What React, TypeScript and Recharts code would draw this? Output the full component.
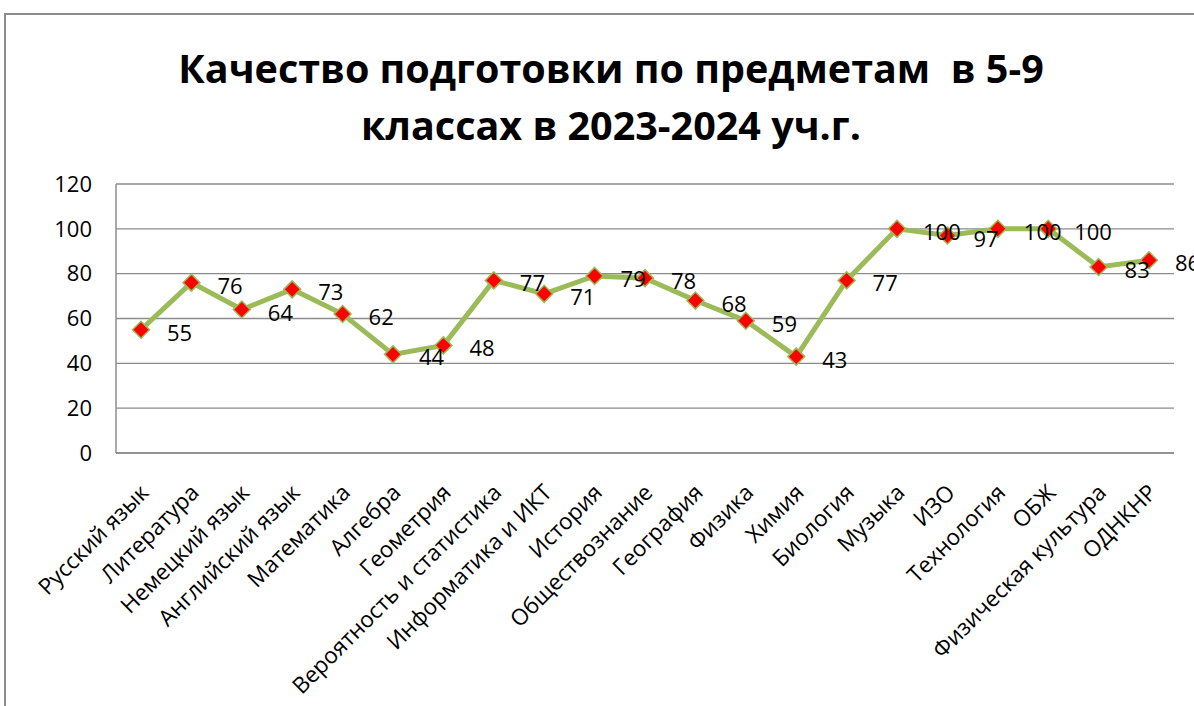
import { CartesianGrid, LabelList, Line, LineChart, XAxis, YAxis } from "recharts";

const subjects = [
  "Русский язык",
  "Литература",
  "Немецкий язык",
  "Английский язык",
  "Математика",
  "Алгебра",
  "Геометрия",
  "Вероятность и статистика",
  "Информатика и ИКТ",
  "История",
  "Обществознание",
  "География",
  "Физика",
  "Химия",
  "Биология",
  "Музыка",
  "ИЗО",
  "Технология",
  "ОБЖ",
  "Физическая культура",
  "ОДНКНР",
];

const quality = [55, 76, 64, 73, 62, 44, 48, 77, 71, 79, 78, 68, 59, 43, 77, 100, 97, 100, 100, 83, 86];

const yTicks = [0, 20, 40, 60, 80, 100, 120];

const chartData = subjects.map((subject, i) => ({ subject, value: quality[i] }));

const FONT = "'Open Sans', sans-serif";
const GRID = "#8c8c8c";
const GREEN = "#9BBB59";

function Diamond(props: any) {
  const { cx, cy } = props;
  if (cx == null || cy == null) return null;
  const r = 8.5;
  return (
    <path
      d={`M${cx},${cy - r}L${cx + r},${cy}L${cx},${cy + r}L${cx - r},${cy}Z`}
      fill="#FF0000"
      stroke={GREEN}
      strokeWidth={1.5}
    />
  );
}

function SubjectTick(props: any) {
  const { x, payload } = props;
  const tx = x + 3;
  const ty = 488;
  return (
    <text
      x={tx}
      y={ty}
      textAnchor="end"
      dominantBaseline="central"
      transform={`rotate(-45, ${tx}, ${ty})`}
      fontFamily={FONT}
      fontSize={22.5}
      fill="#000"
    >
      {payload.value}
    </text>
  );
}

function ValueLabel(props: any) {
  const { x, y, value } = props;
  return (
    <text
      x={x + 26}
      y={y + 2}
      dominantBaseline="central"
      textAnchor="start"
      fontFamily={FONT}
      fontSize={22}
      fill="#000"
    >
      {value}
    </text>
  );
}

export default function App() {
  return (
    <div
      style={{
        position: "absolute",
        left: 0,
        top: 0,
        width: 1194,
        height: 706,
        overflow: "hidden",
        background: "#fff",
      }}
    >
      <div
        style={{
          position: "absolute",
          left: 4,
          top: 13,
          width: 1300,
          height: 800,
          border: "2px solid #8c8c8c",
        }}
      />
      <div
        style={{
          position: "absolute",
          left: 14,
          top: 40,
          width: 1194,
          textAlign: "center",
          fontFamily: FONT,
          fontWeight: 700,
          fontSize: 39.5,
          lineHeight: "57px",
          color: "#000",
          whiteSpace: "pre",
        }}
      >
        {"Качество подготовки по предметам  в 5-9\nклассах в 2023-2024 уч.г."}
      </div>
      <LineChart
        width={1194}
        height={706}
        data={chartData}
        margin={{ top: 184, right: 20, bottom: 0, left: 0 }}
        style={{ position: "absolute", left: 0, top: 0 }}
      >
        <CartesianGrid vertical={false} stroke={GRID} strokeWidth={1.3} />
        <XAxis
          dataKey="subject"
          interval={0}
          padding={{ left: 25, right: 25 }}
          axisLine={{ stroke: GRID, strokeWidth: 1.5 }}
          tickLine={false}
          tick={<SubjectTick />}
          height={253}
        />
        <YAxis
          domain={[0, 120]}
          ticks={yTicks}
          width={116}
          tickSize={20}
          tickMargin={4}
          tickLine={false}
          axisLine={{ stroke: GRID, strokeWidth: 1.5 }}
          tick={{ fontFamily: FONT, fontSize: 22, fill: "#000" }}
        />
        <Line
          type="linear"
          dataKey="value"
          stroke={GREEN}
          strokeWidth={5}
          dot={<Diamond />}
          activeDot={false}
          isAnimationActive={false}
        >
          <LabelList dataKey="value" content={<ValueLabel />} />
        </Line>
      </LineChart>
    </div>
  );
}
